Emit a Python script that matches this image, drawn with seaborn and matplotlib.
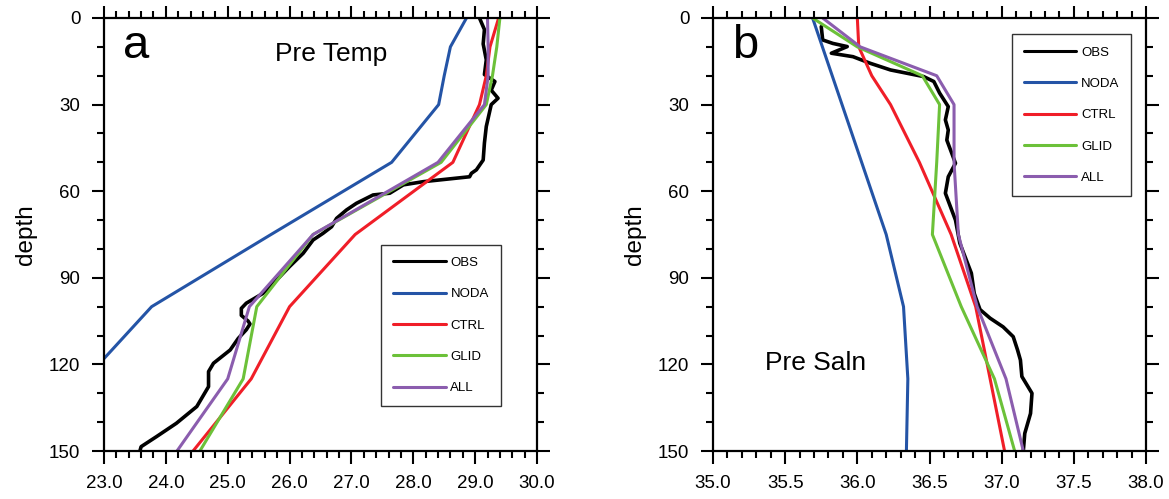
import numpy as np
import pandas as pd
import seaborn as sns
import matplotlib
matplotlib.use("Agg")
import matplotlib.pyplot as plt
from matplotlib.ticker import MultipleLocator, FormatStrFormatter

# ---------------- data: panel a (temperature) ----------------
series_names = ["OBS", "NODA", "CTRL", "GLID", "ALL"]
series_colors = ["#000000", "#2454a6", "#f01e28", "#6cc139", "#8b5dae"]

temp_obs_depth = [0, 4, 9, 14.5, 19.6, 22, 25, 27.8, 30, 37.6, 43.3, 49.2, 52.6, 53.8, 55,
                  56.7, 57.8, 60.7, 61.3, 64.2, 66.5, 69.4, 72.3, 74.6, 76.9, 81.5, 86.1,
                  90.8, 95.4, 98.8, 100.6, 103, 105, 106, 108, 111, 115, 119.6, 122.5,
                  127.7, 134.6, 140.4, 145, 148.5, 150]
temp_obs = [29.07, 29.15, 29.13, 29.18, 29.15, 29.32, 29.26, 29.37, 29.26, 29.18, 29.15,
            29.13, 29.02, 28.94, 28.91, 28.16, 27.84, 27.62, 27.35, 27.08, 26.92, 26.76,
            26.68, 26.54, 26.38, 26.22, 26.0, 25.79, 25.57, 25.3, 25.22, 25.22, 25.33,
            25.36, 25.3, 25.17, 25.04, 24.77, 24.69, 24.69, 24.5, 24.17, 23.85, 23.6, 23.58]

noda_temp_depth = [0, 10, 20, 30, 50, 75, 100, 125]
noda_temp = [28.86, 28.6, 28.5, 28.41, 27.65, 25.7, 23.77, 22.7]

model_depth = [0, 10, 20, 30, 50, 75, 100, 125, 150]
ctrl_temp = [29.38, 29.24, 29.18, 29.07, 28.64, 27.06, 26.0, 25.38, 24.44]
glid_temp = [29.4, 29.35, 29.28, 29.18, 28.45, 26.38, 25.47, 25.25, 24.55]
all_temp = [29.2, 29.21, 29.21, 29.15, 28.4, 26.38, 25.35, 25.0, 24.18]

# ---------------- data: panel b (salinity) ----------------
saln_obs_depth = [3, 7.6, 8.8, 9.9, 12.2, 13.4, 15.7, 18, 20.3, 22, 26, 30.7, 35.3, 38.8,
                  42.3, 50.3, 55, 60.7, 70, 78, 88.4, 95.4, 101, 104, 107, 110.4, 115,
                  118.5, 124.2, 130, 137, 143.9, 150]
saln_obs = [35.75, 35.76, 35.83, 35.93, 35.82, 35.97, 36.09, 36.23, 36.46, 36.53, 36.57,
            36.63, 36.61, 36.63, 36.62, 36.68, 36.63, 36.61, 36.68, 36.71, 36.79, 36.81,
            36.85, 36.92, 37.01, 37.08, 37.11, 37.13, 37.14, 37.21, 37.2, 37.16, 37.15]

noda_saln_depth = [0, 75, 100, 125, 150]
noda_saln = [35.69, 36.2, 36.32, 36.35, 36.34]
ctrl_saln = [36.0, 36.01, 36.1, 36.23, 36.43, 36.65, 36.82, 36.92, 37.02]
glid_saln = [35.69, 36.0, 36.45, 36.57, 36.55, 36.52, 36.72, 36.95, 37.09]
all_saln = [35.76, 36.02, 36.55, 36.67, 36.67, 36.7, 36.83, 37.03, 37.15]

depth_ticks = [0, 30, 60, 90, 120, 150]
temp_ticks = [23.0, 24.0, 25.0, 26.0, 27.0, 28.0, 29.0, 30.0]
saln_ticks = [35.0, 35.5, 36.0, 36.5, 37.0, 37.5, 38.0]


def frame(pairs):
    parts = []
    for name, d, v in pairs:
        parts.append(pd.DataFrame({"series": name, "depth": d, "value": v}))
    return pd.concat(parts, ignore_index=True)


df_temp = frame([("OBS", temp_obs_depth, temp_obs),
                 ("NODA", noda_temp_depth, noda_temp),
                 ("CTRL", model_depth, ctrl_temp),
                 ("GLID", model_depth, glid_temp),
                 ("ALL", model_depth, all_temp)])
df_saln = frame([("OBS", saln_obs_depth, saln_obs),
                 ("NODA", noda_saln_depth, noda_saln),
                 ("CTRL", model_depth, ctrl_saln),
                 ("GLID", model_depth, glid_saln),
                 ("ALL", model_depth, all_saln)])

sns.set_style("ticks")
plt.rcParams["font.family"] = ["Liberation Sans", "DejaVu Sans"]
plt.rcParams["text.color"] = "black"
plt.rcParams["axes.labelcolor"] = "black"
plt.rcParams["xtick.color"] = "black"
plt.rcParams["ytick.color"] = "black"

fig = plt.figure(figsize=(11.69, 4.99), dpi=100)
axa = fig.add_axes([104 / 1169, 1 - 451 / 499, 433 / 1169, 433 / 499])
axb = fig.add_axes([713 / 1169, 1 - 451 / 499, 433 / 1169, 433 / 499])

palette = dict(zip(series_names, series_colors))


def draw(ax, df, xlim, xticks, xminor, legend_anchor):
    sns.lineplot(data=df, x="value", y="depth", hue="series", hue_order=series_names,
                 palette=palette, orient="y", sort=False, estimator=None,
                 linewidth=2.2, ax=ax, legend=True)
    for ln in ax.lines:
        ln.set_solid_joinstyle("round")
    ax.lines[0].set_linewidth(2.6)
    ax.set_xlim(*xlim)
    ax.set_ylim(150, 0)
    ax.set_xticks(xticks)
    ax.set_yticks(depth_ticks)
    ax.xaxis.set_major_formatter(FormatStrFormatter("%.1f"))
    ax.xaxis.set_minor_locator(MultipleLocator(xminor))
    ax.yaxis.set_minor_locator(MultipleLocator(10))
    ax.tick_params(which="both", direction="out", top=True, right=True,
                   labeltop=False, labelright=False, width=1.5, colors="black",
                   labelsize=13.5)
    ax.tick_params(which="major", length=9, pad=8)
    ax.tick_params(which="minor", length=5)
    for sp in ax.spines.values():
        sp.set_linewidth(1.6)
        sp.set_color("black")
        sp.set_visible(True)
    ax.set_xlabel("")
    ax.set_ylabel("depth", fontsize=17.5, labelpad=9, color="black")
    handles, labels = ax.get_legend_handles_labels()
    leg = ax.legend(handles, labels, loc="upper left", bbox_to_anchor=legend_anchor,
                    fontsize=9.5, handlelength=4.0, handletextpad=0.35,
                    labelspacing=1.45, borderpad=0.9, fancybox=False,
                    framealpha=1, edgecolor="#333333", borderaxespad=0)
    leg.get_frame().set_linewidth(1.0)
    for t in leg.get_texts():
        t.set_color("black")
    for h in leg.get_lines():
        h.set_linewidth(2.2)


draw(axa, df_temp, (23.0, 30.0), temp_ticks, 0.2, (0.64, 0.476))
draw(axb, df_saln, (35.0, 38.0), saln_ticks, 0.1, (0.69, 0.962))

axa.text(0.045, 0.935, "a", transform=axa.transAxes, fontsize=34, va="center", ha="left")
axa.text(0.524, 0.918, "Pre Temp", transform=axa.transAxes, fontsize=19,
         va="center", ha="center")
axb.text(0.045, 0.935, "b", transform=axb.transAxes, fontsize=34, va="center", ha="left")
axb.text(0.236, 0.203, "Pre Saln", transform=axb.transAxes, fontsize=19,
         va="center", ha="center")

fig.savefig("out.png", dpi=100)
